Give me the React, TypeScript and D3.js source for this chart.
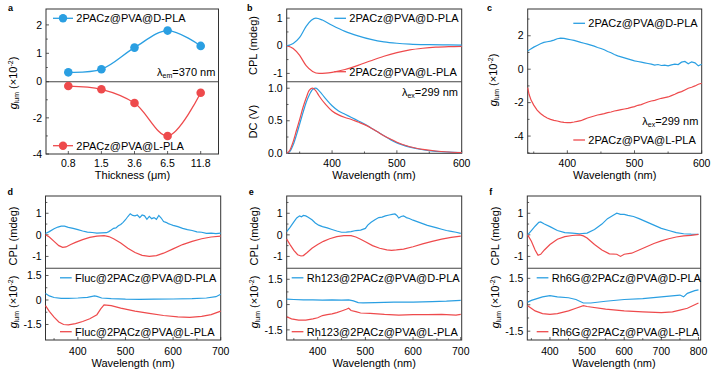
import React from 'react';
import * as d3 from 'd3';

type Pt = [number, number];

const BLUE = '#2a9fe2';
const RED = '#ee4a4c';
const FONT = '"Liberation Sans", Arial, sans-serif';

// ---------- Panel a ----------
const thicknessLabels = ['0.8', '1.5', '3.6', '6.5', '11.8'];
const aDValues = [0.33, 0.44, 1.2, 1.8, 1.26];
const aLValues = [-0.24, -0.42, -1.18, -3.0, -0.61];

// ---------- Panel b ----------
const bCplD: Pt[] = [[330, 0], [340, 0.08], [350, 0.3], [360, 0.7], [368, 0.92], [375, 1.0], [385, 0.93], [400, 0.74], [420, 0.52], [440, 0.36], [460, 0.23], [480, 0.14], [500, 0.09], [520, 0.06], [550, 0.04], [580, 0.03], [600, 0.02]];
const bCplL: Pt[] = [[330, 0], [340, -0.1], [350, -0.35], [360, -0.72], [370, -0.93], [380, -1.0], [390, -0.99], [400, -0.96], [420, -0.86], [440, -0.71], [460, -0.54], [480, -0.38], [500, -0.25], [520, -0.15], [540, -0.09], [560, -0.05], [580, -0.03], [600, -0.02]];
const bDcD: Pt[] = [[330, 0], [335, 0.03], [340, 0.13], [345, 0.28], [350, 0.45], [355, 0.62], [360, 0.78], [365, 0.9], [370, 0.98], [375, 1.0], [380, 0.96], [390, 0.84], [400, 0.73], [410, 0.65], [420, 0.6], [430, 0.55], [440, 0.5], [450, 0.45], [460, 0.39], [470, 0.33], [480, 0.27], [490, 0.21], [500, 0.16], [520, 0.095], [540, 0.055], [560, 0.03], [580, 0.018], [600, 0.01]];
const bDcL: Pt[] = [[330, 0], [335, 0.05], [340, 0.18], [345, 0.35], [350, 0.52], [355, 0.7], [360, 0.85], [365, 0.97], [370, 1.0], [375, 0.96], [380, 0.88], [390, 0.75], [400, 0.65], [410, 0.59], [420, 0.55], [430, 0.52], [440, 0.48], [450, 0.44], [460, 0.39], [470, 0.33], [480, 0.27], [490, 0.22], [500, 0.17], [520, 0.1], [540, 0.06], [560, 0.035], [580, 0.02], [600, 0.01]];

// ---------- Panel c ----------
const cGlumD: Pt[] = [[341, 1.08], [345, 1.2], [350, 1.32], [355, 1.42], [360, 1.52], [365, 1.6], [370, 1.64], [375, 1.68], [380, 1.74], [385, 1.82], [390, 1.86], [395, 1.84], [400, 1.8], [405, 1.76], [410, 1.72], [415, 1.66], [420, 1.6], [425, 1.55], [430, 1.5], [435, 1.44], [440, 1.38], [445, 1.3], [450, 1.24], [455, 1.16], [460, 1.06], [465, 0.98], [470, 0.88], [475, 0.8], [480, 0.74], [485, 0.68], [490, 0.62], [495, 0.56], [500, 0.5], [505, 0.46], [510, 0.42], [515, 0.38], [520, 0.34], [525, 0.3], [530, 0.24], [535, 0.28], [540, 0.22], [545, 0.24], [550, 0.2], [555, 0.26], [560, 0.3], [565, 0.28], [570, 0.42], [575, 0.46], [580, 0.32], [585, 0.44], [590, 0.38], [595, 0.2], [600, 0.3]];
const cGlumL: Pt[] = [[341, -1.1], [343, -1.5], [346, -1.85], [350, -2.15], [355, -2.45], [360, -2.65], [365, -2.8], [370, -2.92], [375, -3.0], [380, -3.06], [385, -3.1], [390, -3.15], [395, -3.18], [400, -3.2], [405, -3.19], [410, -3.16], [415, -3.12], [420, -3.08], [425, -3.0], [430, -2.92], [435, -2.86], [440, -2.8], [445, -2.74], [450, -2.7], [455, -2.66], [460, -2.6], [465, -2.56], [470, -2.5], [475, -2.46], [480, -2.42], [485, -2.38], [490, -2.34], [495, -2.28], [500, -2.24], [505, -2.16], [510, -2.12], [515, -2.04], [520, -1.96], [525, -1.9], [530, -1.86], [535, -1.8], [540, -1.74], [545, -1.7], [550, -1.66], [555, -1.58], [560, -1.5], [565, -1.4], [570, -1.34], [575, -1.24], [580, -1.14], [585, -1.08], [590, -1.0], [595, -0.9], [600, -0.84]];

// ---------- Panel d ----------
const dCplD: Pt[] = [[332, 0.06], [340, 0.15], [350, 0.28], [358, 0.36], [365, 0.4], [372, 0.4], [380, 0.35], [390, 0.3], [400, 0.24], [410, 0.18], [420, 0.13], [430, 0.11], [440, 0.08], [450, 0.09], [460, 0.1], [465, 0.15], [470, 0.22], [475, 0.3], [480, 0.32], [485, 0.42], [490, 0.48], [495, 0.58], [500, 0.7], [505, 0.85], [510, 0.98], [515, 0.9], [520, 0.88], [525, 0.92], [530, 0.8], [535, 0.92], [540, 0.88], [545, 0.72], [550, 0.86], [555, 0.75], [560, 0.8], [565, 0.72], [570, 0.9], [575, 0.78], [580, 0.62], [585, 0.58], [590, 0.52], [595, 0.48], [600, 0.44], [610, 0.38], [620, 0.3], [630, 0.24], [640, 0.2], [650, 0.14], [660, 0.12], [670, 0.07], [680, 0.08], [690, 0.06], [700, 0.08]];
const dCplL: Pt[] = [[332, 0], [340, -0.1], [350, -0.3], [360, -0.5], [368, -0.58], [375, -0.56], [385, -0.45], [395, -0.35], [410, -0.22], [425, -0.12], [440, -0.06], [455, -0.04], [465, -0.08], [475, -0.18], [490, -0.38], [505, -0.62], [520, -0.82], [535, -0.95], [550, -1.0], [565, -0.96], [580, -0.85], [600, -0.65], [620, -0.45], [640, -0.3], [660, -0.18], [680, -0.1], [700, -0.06]];
const dGlumD: Pt[] = [[332, 0.4], [340, 0.25], [350, 0.15], [365, 0.1], [380, 0.1], [400, 0.12], [420, 0.16], [435, 0.25], [440, 0.22], [450, 0.12], [470, 0.08], [500, 0.05], [530, 0.04], [560, 0.05], [600, 0.06], [640, 0.08], [670, 0.12], [690, 0.2], [700, 0.35]];
const dGlumL: Pt[] = [[332, -0.35], [340, -0.7], [350, -1.05], [360, -1.35], [370, -1.5], [380, -1.52], [395, -1.45], [410, -1.32], [425, -1.15], [440, -0.9], [448, -0.55], [455, -0.3], [470, -0.35], [490, -0.5], [520, -0.68], [550, -0.82], [580, -0.95], [610, -1.03], [635, -1.07], [660, -1.0], [680, -0.9], [700, -0.68]];

// ---------- Panel e ----------
const eCplD: Pt[] = [[335, 0.15], [342, 0.35], [350, 0.6], [356, 0.78], [362, 0.88], [366, 0.84], [370, 0.9], [375, 0.88], [380, 0.82], [388, 0.7], [395, 0.55], [402, 0.45], [410, 0.38], [420, 0.32], [430, 0.25], [440, 0.18], [450, 0.12], [460, 0.13], [470, 0.15], [480, 0.2], [490, 0.22], [500, 0.3], [505, 0.45], [512, 0.58], [520, 0.7], [528, 0.8], [535, 0.82], [542, 0.88], [550, 0.92], [556, 0.95], [562, 0.97], [566, 0.9], [570, 0.78], [575, 0.85], [580, 0.88], [586, 0.8], [592, 0.76], [600, 0.68], [610, 0.6], [620, 0.52], [630, 0.44], [640, 0.38], [650, 0.32], [660, 0.26], [670, 0.2], [680, 0.16], [690, 0.12], [700, 0.07]];
const eCplL: Pt[] = [[335, -0.2], [342, -0.45], [350, -0.72], [358, -0.92], [365, -0.98], [370, -0.96], [378, -0.82], [388, -0.62], [400, -0.45], [412, -0.3], [425, -0.18], [440, -0.08], [455, -0.04], [470, -0.04], [480, -0.1], [490, -0.2], [500, -0.32], [515, -0.5], [530, -0.62], [545, -0.7], [555, -0.72], [565, -0.7], [580, -0.66], [600, -0.55], [620, -0.42], [640, -0.3], [660, -0.2], [680, -0.12], [700, -0.06]];
const eGlumD: Pt[] = [[335, 0.32], [350, 0.3], [370, 0.28], [390, 0.28], [410, 0.26], [430, 0.28], [450, 0.26], [465, 0.28], [475, 0.22], [485, 0.12], [495, 0.1], [520, 0.12], [560, 0.14], [600, 0.15], [640, 0.18], [670, 0.2], [700, 0.25]];
const eGlumL: Pt[] = [[335, -0.72], [345, -0.85], [360, -0.92], [375, -0.92], [390, -0.85], [400, -0.78], [410, -0.65], [420, -0.6], [430, -0.55], [440, -0.48], [450, -0.38], [460, -0.28], [465, -0.22], [470, -0.35], [480, -0.42], [490, -0.5], [510, -0.52], [540, -0.58], [570, -0.62], [600, -0.6], [630, -0.6], [660, -0.58], [690, -0.62], [700, -0.58]];

// ---------- Panel f ----------
const fCplD: Pt[] = [[340, 0], [350, 0.2], [360, 0.4], [370, 0.58], [375, 0.6], [385, 0.5], [400, 0.38], [420, 0.2], [440, 0.1], [460, 0.08], [480, 0.05], [500, 0.08], [520, 0.25], [540, 0.5], [555, 0.75], [565, 0.85], [575, 0.95], [580, 1.0], [590, 0.95], [600, 0.95], [610, 0.9], [625, 0.85], [640, 0.75], [660, 0.6], [680, 0.45], [700, 0.3], [720, 0.2], [740, 0.1], [760, 0.05], [780, 0.03], [800, 0.02]];
const fCplL: Pt[] = [[340, 0], [350, -0.3], [360, -0.7], [368, -0.95], [375, -0.9], [385, -0.7], [400, -0.45], [420, -0.2], [440, -0.08], [460, -0.03], [480, 0], [490, -0.05], [500, -0.15], [520, -0.45], [540, -0.7], [560, -0.88], [580, -0.9], [590, -1.0], [600, -0.9], [620, -0.85], [640, -0.7], [660, -0.55], [680, -0.4], [700, -0.28], [720, -0.18], [740, -0.1], [760, -0.05], [780, -0.02], [800, 0.02]];
const fGlumD: Pt[] = [[340, 0.15], [350, 0.25], [380, 0.45], [400, 0.52], [420, 0.45], [450, 0.4], [470, 0.3], [490, 0.1], [510, 0.1], [550, 0.2], [600, 0.3], [650, 0.35], [700, 0.45], [750, 0.55], [760, 0.45], [770, 0.65], [790, 0.8], [800, 0.85]];
const fGlumL: Pt[] = [[340, -0.05], [360, -0.35], [380, -0.5], [400, -0.55], [420, -0.5], [450, -0.35], [470, -0.2], [490, -0.05], [500, -0.1], [550, -0.25], [600, -0.35], [650, -0.4], [700, -0.45], [730, -0.4], [750, -0.3], [770, -0.2], [790, 0.0], [800, 0.1]];

const wlTicks36 = [400, 500, 600];
const wlMinor36 = [350, 450, 550];
const wlTicks37 = [400, 500, 600, 700];
const wlMinor37 = [350, 450, 550, 650];
const wlTicks38 = [400, 500, 600, 700, 800];
const wlMinor38 = [350, 450, 550, 650, 750];

const AX = '#333';

function path(pts: Pt[], xs: any, ys: any, curve: any = d3.curveLinear) {
  return d3.line<Pt>().x(d => xs(d[0])).y(d => ys(d[1])).curve(curve)(pts) || '';
}

function YTicks({ scale, x, ticks, minor = [], fmt = (v: number) => String(v) }: any) {
  return (
    <g>
      {ticks.map((t: number) => (
        <g key={'t' + t}>
          <line x1={x} x2={x + 3} y1={scale(t)} y2={scale(t)} stroke={AX} strokeWidth={0.8} />
          <text x={x - 4} y={scale(t)} dy="0.35em" textAnchor="end" fontSize={10.5}>{fmt(t)}</text>
        </g>
      ))}
      {minor.map((t: number) => (
        <line key={'m' + t} x1={x} x2={x + 1.8} y1={scale(t)} y2={scale(t)} stroke={AX} strokeWidth={0.8} />
      ))}
    </g>
  );
}

function XTicks({ scale, y, ticks, minor = [], labelY }: any) {
  return (
    <g>
      {ticks.map((t: any) => (
        <g key={'t' + t}>
          <line x1={scale(t)} x2={scale(t)} y1={y} y2={y - 3} stroke={AX} strokeWidth={0.8} />
          <text x={scale(t)} y={labelY} dy="0.35em" textAnchor="middle" fontSize={10.5}>{t}</text>
        </g>
      ))}
      {minor.map((t: number) => (
        <line key={'m' + t} x1={scale(t)} x2={scale(t)} y1={y} y2={y - 1.8} stroke={AX} strokeWidth={0.8} />
      ))}
    </g>
  );
}

function Frame({ x0, x1, y0, y1, div }: any) {
  return (
    <g>
      <rect x={x0} y={y0} width={x1 - x0} height={y1 - y0} fill="none" stroke={AX} strokeWidth={1} />
      {div !== undefined && <line x1={x0} x2={x1} y1={div} y2={div} stroke="#444" strokeWidth={1.1} />}
    </g>
  );
}

function YTitle({ x, y, children }: any) {
  return (
    <text transform={`translate(${x},${y}) rotate(-90)`} textAnchor="middle" dy="0.35em" fontSize={11}>
      {children}
    </text>
  );
}

function GlumTitle({ x, y }: any) {
  return (
    <YTitle x={x} y={y}>
      <tspan fontStyle="italic">g</tspan>
      <tspan fontSize={7} dy={2}>lum</tspan>
      <tspan dy={-2}> (×10</tspan>
      <tspan fontSize={7} dy={-4}>-2</tspan>
      <tspan dy={4}>)</tspan>
    </YTitle>
  );
}

function Legend({ x, y, color, label, marker = false, len = 11.7 }: any) {
  return (
    <g>
      <line x1={x} x2={x + len} y1={y} y2={y} stroke={color} strokeWidth={1.3} />
      {marker && <circle cx={x + len / 2} cy={y} r={4.2} fill={color} />}
      <text x={x + len + 3.3} y={y} dy="0.35em" fontSize={11}>{label}</text>
    </g>
  );
}

function Lambda({ x, y, sub, val, anchor = 'start' }: any) {
  return (
    <text x={x} y={y} dy="0.35em" fontSize={11} textAnchor={anchor}>
      λ<tspan fontSize={7} dy={2.5}>{sub}</tspan><tspan dy={-2.5}>={val} nm</tspan>
    </text>
  );
}

function PanelA() {
  const x0 = 46, x1 = 218.5, y0 = 9, y1 = 154, div = 81.7;
  const xs = d3.scalePoint<string>().domain(thicknessLabels).range([68.3, 200.7]);
  const yTop = d3.scaleLinear().domain([0, 2.56]).range([div, y0]);
  const yBot = d3.scaleLinear().domain([-4, 0]).range([y1, div]);
  const dPts: Pt[] = thicknessLabels.map((_, i) => [i, aDValues[i]]);
  const lPts: Pt[] = thicknessLabels.map((_, i) => [i, aLValues[i]]);
  const xi = (i: number) => xs(thicknessLabels[i]) as number;
  return (
    <g>
      <Frame x0={x0} x1={x1} y0={y0} y1={y1} div={div} />
      <YTicks scale={yTop} x={x0} ticks={[0, 1, 2]} minor={[0.5, 1.5]} />
      <YTicks scale={yBot} x={x0} ticks={[-2, -4]} minor={[-1, -3]} />
      <g>
        {thicknessLabels.map(t => (
          <g key={t}>
            <line x1={xs(t)} x2={xs(t)} y1={y1} y2={y1 - 3} stroke={AX} strokeWidth={0.8} />
            <text x={xs(t)} y={163.3} dy="0.35em" textAnchor="middle" fontSize={10.5}>{t}</text>
          </g>
        ))}
      </g>
      <path d={path(dPts, xi, yTop, d3.curveCatmullRom)} fill="none" stroke={BLUE} strokeWidth={1.3} />
      <path d={path(lPts, xi, yBot, d3.curveCatmullRom)} fill="none" stroke={RED} strokeWidth={1.3} />
      {dPts.map((p, i) => <circle key={'d' + i} cx={xi(p[0])} cy={yTop(p[1])} r={4.3} fill={BLUE} />)}
      {lPts.map((p, i) => <circle key={'l' + i} cx={xi(p[0])} cy={yBot(p[1])} r={4.3} fill={RED} />)}
      <Legend x={53} y={18.3} color={BLUE} label="2PACz@PVA@D-PLA" marker len={20} />
      <Legend x={53} y={145.7} color={RED} label="2PACz@PVA@L-PLA" marker len={20} />
      <Lambda x={157} y={72} sub="em" val="370" />
      <GlumTitle x={13.3} y={83} />
      <text x={132.5} y={175.3} dy="0.35em" textAnchor="middle" fontSize={11}>Thickness (μm)</text>
      <text x={8} y={8} dy="0.35em" fontSize={9} fontWeight="bold">a</text>
    </g>
  );
}

function PanelB() {
  const x0 = 286.7, x1 = 461.7, y0 = 9, y1 = 153.3, div = 81.7;
  const xs = d3.scaleLinear().domain([330, 600]).range([x0, x1]);
  const yTop = d3.scaleLinear().domain([-1.3, 1.33]).range([div, y0]);
  const yBot = d3.scaleLinear().domain([0, 1.1]).range([y1, div]);
  return (
    <g>
      <Frame x0={x0} x1={x1} y0={y0} y1={y1} div={div} />
      <YTicks scale={yTop} x={x0} ticks={[-1, 0, 1]} minor={[-0.5, 0.5]} />
      <YTicks scale={yBot} x={x0} ticks={[0, 0.5, 1.0]} minor={[0.25, 0.75]} fmt={(v: number) => v.toFixed(1)} />
      <XTicks scale={xs} y={y1} ticks={wlTicks36} minor={wlMinor36} labelY={163.3} />
      <path d={path(bCplL, xs, yTop, d3.curveMonotoneX)} fill="none" stroke={RED} strokeWidth={1.2} />
      <path d={path(bCplD, xs, yTop, d3.curveMonotoneX)} fill="none" stroke={BLUE} strokeWidth={1.2} />
      <path d={path(bDcD, xs, yBot, d3.curveMonotoneX)} fill="none" stroke={BLUE} strokeWidth={1.2} />
      <path d={path(bDcL, xs, yBot, d3.curveMonotoneX)} fill="none" stroke={RED} strokeWidth={1.2} />
      <Legend x={334.3} y={18.3} color={BLUE} label="2PACz@PVA@D-PLA" />
      <Legend x={334.3} y={71.7} color={RED} label="2PACz@PVA@L-PLA" />
      <Lambda x={458} y={91.7} sub="ex" val="299" anchor="end" />
      <YTitle x={253.3} y={45.5}>CPL (mdeg)</YTitle>
      <YTitle x={253.3} y={121.7}>DC (V)</YTitle>
      <text x={374} y={175.3} dy="0.35em" textAnchor="middle" fontSize={11}>Wavelength (nm)</text>
      <text x={247} y={8} dy="0.35em" fontSize={9} fontWeight="bold">b</text>
    </g>
  );
}

function PanelC() {
  const x0 = 527.7, x1 = 701.7, y0 = 9, y1 = 153.3;
  const xs = d3.scaleLinear().domain([341, 600]).range([x0, x1]);
  const ys = d3.scaleLinear().domain([-5.03, 3.6]).range([y1, y0]);
  return (
    <g>
      <Frame x0={x0} x1={x1} y0={y0} y1={y1} />
      <YTicks scale={ys} x={x0} ticks={[-4, -2, 0, 2]} minor={[-5, -3, -1, 1, 3]} />
      <XTicks scale={xs} y={y1} ticks={wlTicks36} minor={wlMinor36} labelY={163.3} />
      <path d={path(cGlumD, xs, ys)} fill="none" stroke={BLUE} strokeWidth={1.2} />
      <path d={path(cGlumL, xs, ys)} fill="none" stroke={RED} strokeWidth={1.2} />
      <Legend x={573.3} y={23.3} color={BLUE} label="2PACz@PVA@D-PLA" />
      <Legend x={573.3} y={140} color={RED} label="2PACz@PVA@L-PLA" />
      <Lambda x={698.3} y={120.7} sub="ex" val="299" anchor="end" />
      <GlumTitle x={493.3} y={80} />
      <text x={614.7} y={175.3} dy="0.35em" textAnchor="middle" fontSize={11}>Wavelength (nm)</text>
      <text x={487} y={8} dy="0.35em" fontSize={9} fontWeight="bold">c</text>
    </g>
  );
}

function SpectraPanel({ x0, x1, dom, botDom, ticks, minor, cplD, cplL, glD, glL, dye, letter, legX }: any) {
  const y0 = 196, y1 = 340, div = 268.3;
  const xs = d3.scaleLinear().domain(dom).range([x0, x1]);
  const yTop = d3.scaleLinear().domain([-1.55, 1.8]).range([div, y0]);
  const yBot = d3.scaleLinear().domain(botDom).range([y1, div]);
  const fmt = (v: number) => (v === 0 ? '0' : v.toFixed(1));
  return (
    <g>
      <Frame x0={x0} x1={x1} y0={y0} y1={y1} div={div} />
      <YTicks scale={yTop} x={x0} ticks={[-1, 0, 1]} minor={[-0.5, 0.5, 1.5]} />
      <YTicks scale={yBot} x={x0} ticks={[-1.5, 0, 1.5]} minor={[-0.75, 0.75]} fmt={fmt} />
      <XTicks scale={xs} y={y1} ticks={ticks} minor={minor} labelY={351.7} />
      <path d={path(cplD, xs, yTop)} fill="none" stroke={BLUE} strokeWidth={1.2} />
      <path d={path(cplL, xs, yTop)} fill="none" stroke={RED} strokeWidth={1.2} />
      <path d={path(glD, xs, yBot)} fill="none" stroke={BLUE} strokeWidth={1.2} />
      <path d={path(glL, xs, yBot)} fill="none" stroke={RED} strokeWidth={1.2} />
      <Legend x={legX} y={277.8} color={BLUE} label={`${dye}@2PACz@PVA@D-PLA`} />
      <Legend x={legX} y={331.7} color={RED} label={`${dye}@2PACz@PVA@L-PLA`} />
      <YTitle x={x0 - 32.5} y={236}>CPL (mdeg)</YTitle>
      <GlumTitle x={x0 - 32.5} y={302} />
      <text x={(x0 + x1) / 2} y={362.7} dy="0.35em" textAnchor="middle" fontSize={11}>Wavelength (nm)</text>
      <text x={x0 - 38} y={192} dy="0.35em" fontSize={9} fontWeight="bold">{letter}</text>
    </g>
  );
}

export default function App() {
  return (
    <svg width={719} height={378} style={{ position: 'absolute', left: 0, top: 0, background: '#fff' }} fontFamily={FONT}>
      <rect width={719} height={378} fill="#fff" />
      <PanelA />
      <PanelB />
      <PanelC />
      <SpectraPanel x0={45.5} x1={220.7} dom={[332, 700]} botDom={[-2.45, 1.94]} ticks={wlTicks37} minor={wlMinor37}
        cplD={dCplD} cplL={dCplL} glD={dGlumD} glL={dGlumL} dye="Fluc" letter="d" legX={60} />
      <SpectraPanel x0={286.7} x1={461.7} dom={[335, 702]} botDom={[-2.1, 2.15]} ticks={wlTicks37} minor={wlMinor37}
        cplD={eCplD} cplL={eCplL} glD={eGlumD} glL={eGlumL} dye="Rh123" letter="e" legX={291.7} />
      <SpectraPanel x0={527.3} x1={700.7} dom={[339, 806]} botDom={[-2.0, 2.07]} ticks={wlTicks38} minor={wlMinor38}
        cplD={fCplD} cplL={fCplL} glD={fGlumD} glL={fGlumL} dye="Rh6G" letter="f" legX={536.7} />
    </svg>
  );
}
